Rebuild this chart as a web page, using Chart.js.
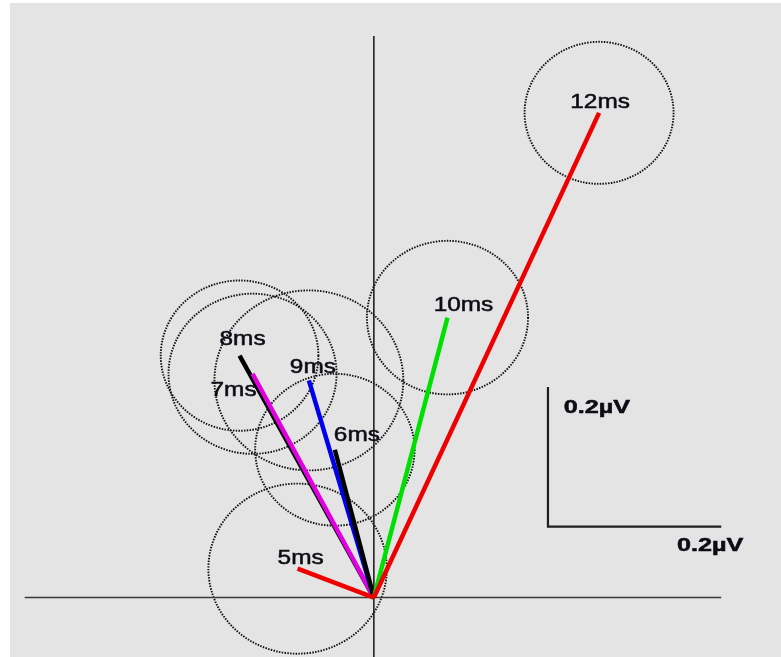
<!DOCTYPE html>
<html>
<head>
<meta charset="utf-8">
<script src="https://cdn.jsdelivr.net/npm/chart.js@4"></script>
<style>
  body { margin: 0; background: #ffffff; }
  .box { position: absolute; left: 10px; top: 3px; width: 771px; height: 654px; background: #e4e4e4; }
</style>
</head>
<body>
<div class="box"><canvas id="vectorChart"></canvas></div>
<script>
// Latency labels and vector tips (µV)
const times = ["5ms", "6ms", "7ms", "8ms", "9ms", "10ms", "12ms"];
const tipX = [-0.088, -0.045, -0.140, -0.155, -0.075, 0.085, 0.260];
const tipY = [0.035, 0.179, 0.271, 0.293, 0.263, 0.339, 0.587];
// Radius of the confidence circle around each tip (µV)
const radius = [0.103, 0.092, 0.097, 0.091, 0.109, 0.093, 0.086];

// Axis lines and scale bar (µV)
const axisX = [-0.403, 0.401];
const axisY = [-0.075, 0.680];
const barCorner = [0.201, 0.086];
const barTop = 0.255;
const barRight = 0.401;
const barText = "0.2µV";

// Styles
const vectorColors = ["#ee0000", "#000000", "#e000e0", "#000000", "#0000ee", "#00e000", "#ee0000"];
// lower value is drawn on top
const drawOrder = [1, 3, 5, 7, 4, 2, 1];
// label offsets from tip, pixels
const labelShift = [[3, -10], [22, -14], [-19, 17], [3, -16], [4, -13], [16, -12], [1, -10]];

let datasets = [];
times.forEach((t, i) => {
  datasets.push({
    label: t,
    data: [{ x: 0, y: 0 }, { x: tipX[i], y: tipY[i] }],
    showLine: true,
    borderColor: vectorColors[i],
    borderWidth: 4.5,
    borderCapStyle: "butt",
    pointRadius: 0,
    order: drawOrder[i],
  });
});

// axes
datasets.push({
  label: "x axis",
  data: [{ x: axisX[0], y: 0 }, { x: axisX[1], y: 0 }],
  showLine: true, borderColor: "#3a3a3a", borderWidth: 1.6, pointRadius: 0, order: 20,
});
datasets.push({
  label: "y axis",
  data: [{ x: 0, y: axisY[0] }, { x: 0, y: axisY[1] }],
  showLine: true, borderColor: "#222222", borderWidth: 1.6, pointRadius: 0, order: 20,
});
// scale bar
datasets.push({
  label: "scale",
  data: [{ x: barCorner[0], y: barTop }, { x: barCorner[0], y: barCorner[1] }, { x: barRight, y: barCorner[1] }],
  showLine: true, borderColor: "#1e1e1e", borderWidth: 2.2, pointRadius: 0, order: 20,
});

// dotted circles around the vector tips
const circlePlugin = {
  id: "circles",
  beforeDatasetsDraw(chart) {
    const ctx = chart.ctx;
    const xs = chart.scales.x, ys = chart.scales.y;
    ctx.save();
    ctx.strokeStyle = "#111111";
    ctx.lineWidth = 1.9;
    ctx.setLineDash([1.5, 1.3]);
    times.forEach((t, i) => {
      const cx = xs.getPixelForValue(tipX[i]);
      const cy = ys.getPixelForValue(tipY[i]);
      const rx = xs.getPixelForValue(radius[i]) - xs.getPixelForValue(0);
      const ry = ys.getPixelForValue(0) - ys.getPixelForValue(radius[i]);
      ctx.beginPath();
      ctx.ellipse(cx, cy, rx, ry, 0, 0, Math.PI * 2);
      ctx.stroke();
    });
    ctx.restore();
  },
};

function wideText(ctx, text, x, y, font, stretch) {
  ctx.save();
  ctx.font = font;
  ctx.textAlign = "center";
  ctx.textBaseline = "middle";
  ctx.fillStyle = "#0c0c14";
  ctx.strokeStyle = "#0c0c14";
  ctx.lineWidth = 0.5;
  ctx.translate(x, y);
  ctx.scale(stretch, 1);
  ctx.fillText(text, 0, 0);
  ctx.strokeText(text, 0, 0);
  ctx.restore();
}

const labelPlugin = {
  id: "labels",
  afterDatasetsDraw(chart) {
    const ctx = chart.ctx;
    const xs = chart.scales.x, ys = chart.scales.y;
    times.forEach((t, i) => {
      const px = xs.getPixelForValue(tipX[i]) + labelShift[i][0];
      const py = ys.getPixelForValue(tipY[i]) + labelShift[i][1];
      wideText(ctx, t, px, py, "20px 'Liberation Sans'", 1.22);
    });
    // scale bar labels
    const bx = xs.getPixelForValue(barCorner[0]);
    const by = ys.getPixelForValue(barCorner[1]);
    const topY = ys.getPixelForValue(barTop);
    const rightX = xs.getPixelForValue(barRight);
    wideText(ctx, barText, bx + 49, topY + 21, "bold 18px 'Liberation Sans'", 1.4);
    wideText(ctx, barText, rightX - 11, by + 20, "bold 18px 'Liberation Sans'", 1.4);
  },
};

new Chart(document.getElementById("vectorChart"), {
  type: "scatter",
  data: { datasets: datasets },
  options: {
    responsive: true,
    maintainAspectRatio: false,
    animation: false,
    layout: { padding: 0 },
    plugins: { legend: { display: false }, tooltip: { enabled: false } },
    scales: {
      x: { type: "linear", min: -0.42, max: 0.47, display: false },
      y: { type: "linear", min: -0.072, max: 0.72, display: false },
    },
  },
  plugins: [circlePlugin, labelPlugin],
});
</script>
</body>
</html>
